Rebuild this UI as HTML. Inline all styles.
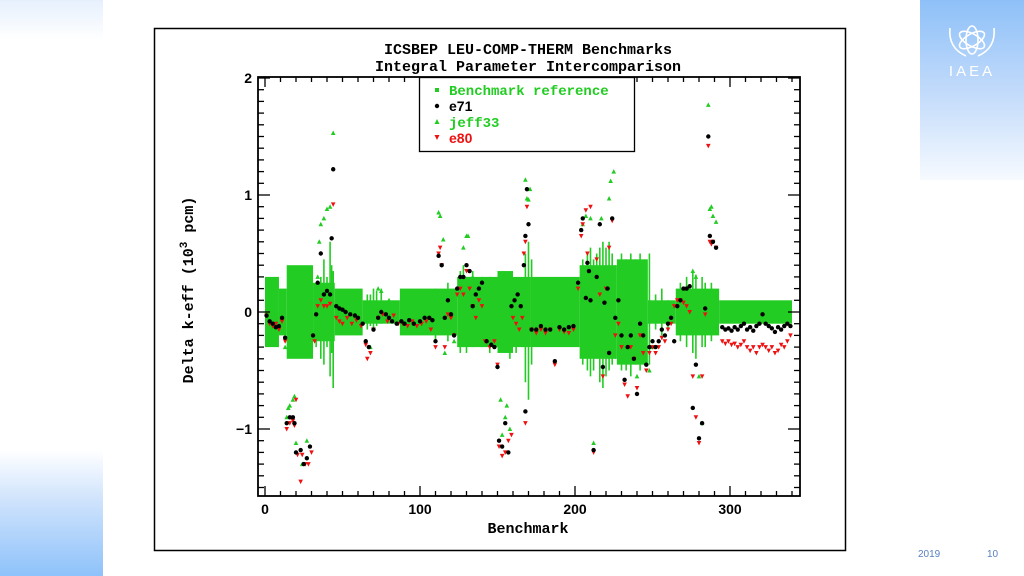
<!DOCTYPE html>
<html><head><meta charset="utf-8">
<style>
html,body{margin:0;padding:0;background:#fff;}
body{width:1024px;height:576px;position:relative;overflow:hidden;font-family:"Liberation Sans",sans-serif;}
.panel{position:absolute;}
</style></head>
<body>
<div class="panel" style="left:0;top:0;width:103px;height:40px;background:linear-gradient(#e6f0fd,#fff);"></div>
<div class="panel" style="left:0;top:450px;width:103px;height:126px;background:linear-gradient(#fff,#cfe3fc 40%,#8ec2fa);"></div>
<div class="panel" style="left:920px;top:0;width:104px;height:180px;background:linear-gradient(#8ec0f8,#c6ddfb 55%,#f6faff);"></div>
<div class="panel" style="left:920px;top:10px;width:104px;height:70px;">
<svg width="104" height="70">
<g fill="none" stroke="#fff" stroke-width="1.6">
<ellipse cx="52" cy="30" rx="14" ry="6" transform="rotate(30 52 30)"/>
<ellipse cx="52" cy="30" rx="14" ry="6" transform="rotate(-30 52 30)"/>
<ellipse cx="52" cy="30" rx="6" ry="14"/>
<path d="M30 18 Q28 38 46 46"/><path d="M74 18 Q76 38 58 46"/>
</g>
<text x="52" y="66" text-anchor="middle" fill="#fff" font-family="Liberation Sans" font-size="15" letter-spacing="3">IAEA</text>
</svg></div>
<div style="position:absolute;left:918px;top:549px;font-size:10px;color:#5a7fc0;">2019</div>
<div style="position:absolute;left:987px;top:549px;font-size:10px;color:#5a7fc0;">10</div>

<svg id="chart" width="1024" height="576" style="position:absolute;left:0;top:0">
<rect x="154.5" y="28.5" width="691" height="522" fill="none" stroke="#000" stroke-width="1.5"/>
<g id="band"></g>
<g id="pts"></g>
<g id="axes"></g>
<text x="528" y="54" text-anchor="middle" font-family="Liberation Mono" font-weight="bold" font-size="15">ICSBEP LEU-COMP-THERM Benchmarks</text>
<text x="528" y="71" text-anchor="middle" font-family="Liberation Mono" font-weight="bold" font-size="15">Integral Parameter Intercomparison</text>
<text x="528" y="533" text-anchor="middle" font-family="Liberation Mono" font-weight="bold" font-size="15">Benchmark</text>
<text transform="translate(193 290) rotate(-90)" text-anchor="middle" font-family="Liberation Mono" font-weight="bold" font-size="15">Delta k-eff (10<tspan dy="-6" font-size="11">3</tspan><tspan dy="6"> pcm)</tspan></text>
<g>
<rect x="419.5" y="77.5" width="215" height="74" fill="#fff" stroke="#000" stroke-width="1.3"/>
<rect x="435" y="88" width="4" height="4" fill="#22cc22"/>
<text x="449" y="95" font-family="Liberation Mono" font-weight="bold" font-size="14" fill="#22cc22">Benchmark reference</text>
<circle cx="437" cy="106" r="2.2" fill="#000"/>
<text x="449" y="111" font-family="Liberation Sans" font-weight="bold" font-size="14" fill="#000">e71</text>
<path d="M437 119 L439.5 124 L434.5 124Z" fill="#22cc22"/>
<text x="449" y="127" font-family="Liberation Mono" font-weight="bold" font-size="14" fill="#22cc22">jeff33</text>
<path d="M434.5 135 L439.5 135 L437 140Z" fill="#ee1111"/>
<text x="449" y="143" font-family="Liberation Sans" font-weight="bold" font-size="14" fill="#ee1111">e80</text>
</g>
</svg>

<script>
const xTicks=[0,100,200,300];
const yTicks=[-1,0,1,2];
// band segments: start benchmark, end benchmark, uncertainty (10^3 pcm)
const bandStart=[0,9,14,31,45,63,87,124,150,160,171,203,227,247,265,293];
const bandEnd  =[9,14,31,45,63,87,124,150,160,171,203,227,247,265,293,340];
const bandUnc  =[0.3,0.2,0.4,0.25,0.2,0.1,0.2,0.3,0.35,0.3,0.3,0.4,0.45,0.1,0.2,0.1];
// individual error-bar spikes: benchmark, top, bottom
const spikeX  =[33,36,38,40,42,43,44,66,68,70,72,75,110,118,122,126,128,130,134,140,145,158,162,166,168,170,172,205,208,210,212,214,216,218,220,222,224,226,230,233,236,239,242,245,248,252,256,260,268,272,276,278,282,284,288];
const spikeTop=[0.25,0.3,0.45,0.3,0.6,0.4,0.35,0.15,0.15,0.2,0.18,0.2,0.2,0.25,0.2,0.35,0.4,0.3,0.35,0.3,0.3,0.3,0.25,0.2,0.5,0.6,0.45,0.45,0.5,0.55,0.45,0.5,0.55,0.6,0.55,0.6,0.5,0.4,0.5,0.45,0.5,0.45,0.5,0.45,0.5,0.15,0.2,0.1,0.25,0.3,0.35,0.32,0.3,0.25,0.25];
const spikeBot=[-0.3,-0.4,-0.45,-0.3,-0.55,-0.35,-0.65,-0.15,-0.12,-0.15,-0.12,-0.1,-0.25,-0.25,-0.2,-0.35,-0.3,-0.35,-0.3,-0.3,-0.35,-0.4,-0.35,-0.3,-0.6,-0.75,-0.45,-0.45,-0.5,-0.55,-0.5,-0.4,-0.6,-0.65,-0.55,-0.5,-0.45,-0.4,-0.5,-0.5,-0.55,-0.45,-0.5,-0.45,-0.45,-0.15,-0.2,-0.15,-0.25,-0.3,-0.35,-0.4,-0.3,-0.3,-0.25];
const e71=[[1,-0.03],[3,-0.08],[5,-0.1],[7,-0.13],[9,-0.12],[11,-0.05],[13,-0.22],[14,-0.95],[16,-0.9],[18,-0.9],[19,-0.95],[20,-1.2],[23,-1.18],[25,-1.3],[27,-1.25],[29,-1.15],[31,-0.2],[33,-0.02],[34,0.25],[36,0.5],[38,0.15],[40,0.18],[42,0.15],[43,0.63],[44,1.22],[46,0.05],[48,0.03],[50,0.02],[52,0],[55,-0.02],[58,-0.03],[60,-0.05],[63,-0.1],[65,-0.25],[67,-0.3],[70,-0.15],[73,-0.05],[75,0],[78,-0.02],[80,-0.05],[82,-0.08],[85,-0.1],[88,-0.08],[90,-0.1],[93,-0.07],[96,-0.1],[100,-0.08],[103,-0.05],[106,-0.05],[108,-0.07],[110,-0.25],[112,0.48],[114,0.4],[116,-0.05],[118,0.1],[120,-0.02],[122,-0.2],[124,0.2],[126,0.3],[128,0.3],[130,0.4],[132,0.35],[134,0.05],[136,0.15],[138,0.2],[140,0.25],[143,-0.25],[146,-0.28],[148,-0.3],[150,-0.47],[151,-1.1],[153,-1.15],[155,-0.95],[157,-1.2],[159,0.05],[161,0.1],[163,0.15],[165,0.05],[167,0.4],[168,0.65],[169,1.05],[170,0.75],[168,-0.85],[172,-0.15],[175,-0.15],[178,-0.12],[181,-0.15],[184,-0.15],[187,-0.42],[190,-0.13],[193,-0.15],[196,-0.13],[199,-0.12],[202,0.25],[204,0.7],[205,0.8],[207,0.12],[208,0.42],[209,0.35],[210,0.1],[212,-1.18],[214,0.3],[216,0.75],[218,-0.47],[219,0.08],[221,0.2],[222,-0.35],[224,0.8],[226,-0.05],[228,0.1],[230,-0.2],[232,-0.58],[234,-0.3],[236,-0.2],[238,-0.4],[240,-0.7],[242,-0.1],[244,-0.2],[246,-0.45],[248,-0.3],[250,-0.25],[252,-0.3],[254,-0.25],[256,-0.15],[258,-0.2],[260,-0.1],[262,-0.05],[264,-0.25],[266,0.05],[268,0.1],[270,0.2],[272,0.2],[274,0.22],[276,-0.82],[278,-0.45],[280,-1.08],[282,-0.95],[284,0.03],[286,1.5],[287,0.65],[289,0.6],[291,0.55],[295,-0.13],[297,-0.15],[299,-0.14],[301,-0.16],[303,-0.13],[305,-0.15],[307,-0.12],[309,-0.1],[311,-0.15],[313,-0.13],[315,-0.16],[317,-0.12],[319,-0.1],[321,-0.02],[323,-0.1],[325,-0.12],[327,-0.14],[329,-0.17],[331,-0.13],[333,-0.15],[335,-0.12],[337,-0.1],[339,-0.12]];
const jeff33=[[2,-0.05],[6,-0.2],[10,0],[13,-0.3],[14,-0.9],[15,-0.82],[16,-0.8],[18,-0.75],[19,-0.72],[20,-1.12],[24,-1.3],[27,-1.1],[30,0.15],[34,0.3],[35,0.6],[36,0.75],[38,0.8],[40,0.88],[42,0.9],[44,1.53],[47,0.05],[56,0],[68,-0.3],[73,0.2],[75,0.18],[80,0.1],[112,0.85],[113,0.82],[115,0.62],[116,-0.35],[122,-0.25],[128,0.55],[130,0.65],[131,0.65],[134,0.3],[152,-0.75],[153,-1.05],[155,-0.9],[156,-0.8],[158,-1.0],[159,0.25],[168,1.13],[169,0.97],[170,0.96],[171,1.05],[205,0.75],[207,0.82],[210,0.8],[212,-1.12],[217,0.8],[222,0.97],[223,1.12],[225,1.2],[240,-0.55],[248,-0.5],[250,-0.3],[276,0.35],[278,0.3],[280,-0.55],[282,-0.95],[286,1.77],[287,0.88],[288,0.9],[289,0.82],[291,0.77],[323,0.03]];
const e80=[[1,-0.03],[3,-0.1],[5,-0.12],[7,-0.1],[9,-0.15],[11,-0.08],[13,-0.25],[14,-1.0],[16,-0.95],[18,-0.93],[19,-0.97],[20,-0.75],[21,-1.22],[23,-1.45],[24,-1.22],[26,-1.3],[28,-1.3],[30,-1.2],[32,-0.25],[34,0.05],[36,0.1],[38,0.05],[40,0.05],[42,0.07],[44,0.92],[46,-0.05],[48,-0.08],[50,-0.1],[53,-0.05],[56,-0.1],[59,-0.07],[62,-0.12],[65,-0.28],[66,-0.4],[68,-0.35],[70,-0.15],[73,-0.05],[76,-0.02],[79,-0.08],[83,-0.03],[86,-0.1],[89,-0.1],[92,-0.12],[95,-0.08],[98,-0.12],[101,-0.1],[104,-0.08],[107,-0.15],[110,-0.3],[112,0.5],[113,0.55],[114,0.4],[116,-0.3],[118,-0.02],[120,-0.05],[122,-0.2],[124,0.15],[126,0.2],[128,0.15],[130,0.35],[132,0.2],[134,0.05],[136,-0.05],[138,0.1],[140,0.05],[142,-0.25],[145,-0.3],[148,-0.25],[150,-0.45],[151,-1.15],[153,-1.23],[155,-1.2],[157,-1.1],[159,-1.05],[160,-0.05],[162,-0.1],[164,-0.15],[166,-0.05],[167,0.5],[168,0.6],[169,0.9],[168,-0.95],[172,-0.15],[175,-0.18],[178,-0.15],[181,-0.18],[184,-0.15],[187,-0.45],[190,-0.15],[193,-0.17],[196,-0.18],[199,-0.15],[202,0.2],[204,0.65],[205,0.75],[207,0.87],[208,0.5],[210,0.9],[212,-1.2],[214,0.45],[216,0.15],[218,-0.55],[220,0.2],[222,0.55],[224,0.78],[226,-0.2],[228,-0.1],[230,-0.3],[232,-0.62],[234,-0.72],[236,-0.3],[238,-0.4],[240,-0.65],[242,-0.2],[244,-0.35],[246,-0.5],[248,-0.35],[250,-0.3],[252,-0.35],[254,-0.3],[256,-0.22],[258,-0.25],[260,-0.15],[262,-0.1],[264,0.05],[266,0.1],[268,0.1],[270,0.08],[272,0.05],[274,0],[276,-0.55],[278,-0.9],[280,-1.12],[282,-0.55],[284,-0.02],[286,1.42],[287,0.6],[288,0.58],[289,0.6],[291,0.55],[295,-0.25],[297,-0.27],[299,-0.25],[301,-0.28],[303,-0.27],[305,-0.3],[307,-0.28],[309,-0.25],[311,-0.3],[313,-0.33],[315,-0.3],[317,-0.35],[319,-0.3],[321,-0.28],[323,-0.3],[325,-0.33],[327,-0.3],[329,-0.35],[331,-0.33],[333,-0.28],[335,-0.3],[337,-0.25],[339,-0.2]];

const NS='http://www.w3.org/2000/svg';
const X=v=>265+v*1.55, Y=v=>312-v*117;
const L=258,R=800,T=77,B=496;
function mk(tag,attrs,parent){const e=document.createElementNS(NS,tag);for(const k in attrs)e.setAttribute(k,attrs[k]);parent.appendChild(e);return e;}
const band=document.getElementById('band');
for(let i=0;i<bandStart.length;i++){
  const r=mk('rect',{x:X(bandStart[i]),y:Y(bandUnc[i]),width:X(bandEnd[i])-X(bandStart[i]),height:Y(-bandUnc[i])-Y(bandUnc[i]),fill:'#22cc22'},band);
  
  
}
for(let i=0;i<spikeX.length;i++){
  const s=mk('line',{x1:X(spikeX[i]),x2:X(spikeX[i]),y1:Y(spikeTop[i]),y2:Y(spikeBot[i]),stroke:'#22cc22','stroke-width':1.6},band);
  
  
}
const pts=document.getElementById('pts');
jeff33.forEach(p=>{const x=X(p[0]),y=Y(p[1]);
  const e=mk('path',{d:`M${x} ${y-2.5}L${x+2.3} ${y+2}L${x-2.3} ${y+2}Z`,fill:'#22cc22'},pts);
  
  });
e80.forEach(p=>{const x=X(p[0]),y=Y(p[1]);
  const e=mk('path',{d:`M${x-2.3} ${y-2}L${x+2.3} ${y-2}L${x} ${y+2.5}Z`,fill:'#ee1111'},pts);
  
  });
e71.forEach(p=>{
  const e=mk('circle',{cx:X(p[0]),cy:Y(p[1]),r:2.2,fill:'#000'},pts);
  
  });
const ax=document.getElementById('axes');
mk('rect',{x:L,y:T,width:R-L,height:B-T,fill:'none',stroke:'#000','stroke-width':1.8},ax);
for(let v=0;v<=340;v+=10){const x=X(v),len=v%100===0?10:5;
  mk('line',{x1:x,x2:x,y1:B,y2:B-len,stroke:'#000','stroke-width':1.3},ax);
  mk('line',{x1:x,x2:x,y1:T,y2:T+len,stroke:'#000','stroke-width':1.3},ax);}
for(let k=-15;k<=20;k++){const v=k/10,y=Y(v),len=k%10===0?12:6;
  mk('line',{x1:L,x2:L+len,y1:y,y2:y,stroke:'#000','stroke-width':1.3},ax);
  mk('line',{x1:R,x2:R-len,y1:y,y2:y,stroke:'#000','stroke-width':1.3},ax);}
xTicks.forEach(v=>{const t=mk('text',{x:X(v),y:514,'text-anchor':'middle','font-family':'Liberation Sans','font-weight':'bold','font-size':14},ax);t.textContent=v;
  
  });
yTicks.forEach(v=>{const t=mk('text',{x:252,y:Y(v)+5,'text-anchor':'end','font-family':'Liberation Sans','font-weight':'bold','font-size':14},ax);t.textContent=v<0?'\u2212'+(-v):v;
  
  });
</script>
</body></html>
